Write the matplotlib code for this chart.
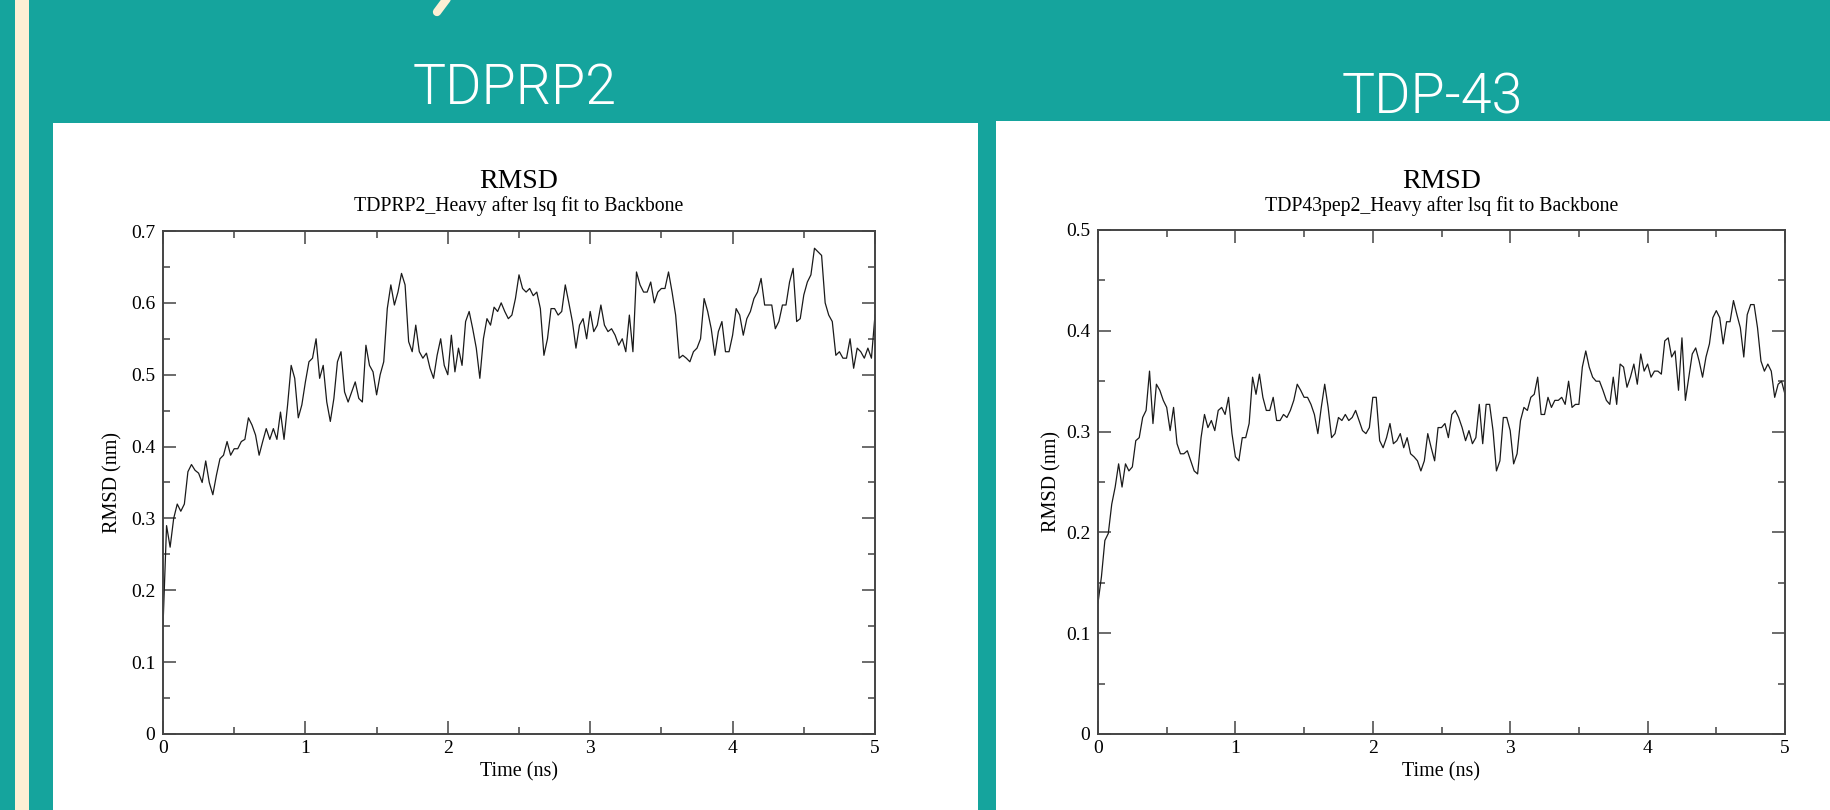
import numpy as np
import matplotlib
matplotlib.use("Agg")
import matplotlib.pyplot as plt
import matplotlib.patches as patches
from matplotlib.lines import Line2D

time_ns = np.linspace(0, 5, 201)

rmsd_tdprp2 = [
    0.150, 0.290, 0.260, 0.300, 0.320, 0.310, 0.320, 0.365, 0.375, 0.367,
    0.363, 0.350, 0.380, 0.350, 0.333, 0.360, 0.383, 0.388, 0.407, 0.388,
    0.397, 0.397, 0.407, 0.410, 0.440, 0.430, 0.416, 0.388, 0.407, 0.425,
    0.410, 0.425, 0.410, 0.448, 0.410, 0.458, 0.513, 0.495, 0.440, 0.458,
    0.490, 0.518, 0.523, 0.550, 0.495, 0.513, 0.462, 0.435, 0.467, 0.518,
    0.532, 0.476, 0.462, 0.476, 0.490, 0.467, 0.462, 0.541, 0.513, 0.504,
    0.472, 0.500, 0.518, 0.592, 0.625, 0.597, 0.615, 0.641, 0.625, 0.546,
    0.532, 0.569, 0.532, 0.523, 0.530, 0.509, 0.495, 0.527, 0.550, 0.513,
    0.500, 0.555, 0.504, 0.537, 0.513, 0.574, 0.588, 0.564, 0.537, 0.495,
    0.550, 0.578, 0.569, 0.594, 0.588, 0.600, 0.588, 0.578, 0.583, 0.606,
    0.639, 0.620, 0.615, 0.620, 0.610, 0.615, 0.592, 0.527, 0.550, 0.592,
    0.592, 0.583, 0.588, 0.625, 0.600, 0.574, 0.537, 0.569, 0.578, 0.550,
    0.588, 0.560, 0.569, 0.597, 0.569, 0.560, 0.564, 0.555, 0.541, 0.550,
    0.532, 0.583, 0.532, 0.643, 0.625, 0.615, 0.615, 0.629, 0.600, 0.615,
    0.620, 0.620, 0.643, 0.615, 0.583, 0.523, 0.527, 0.523, 0.518, 0.532,
    0.537, 0.550, 0.606, 0.588, 0.564, 0.527, 0.560, 0.574, 0.532, 0.532,
    0.555, 0.592, 0.583, 0.555, 0.578, 0.588, 0.606, 0.615, 0.634, 0.597,
    0.597, 0.597, 0.564, 0.574, 0.597, 0.597, 0.629, 0.648, 0.574, 0.578,
    0.611, 0.629, 0.639, 0.676, 0.671, 0.666, 0.600, 0.583, 0.574, 0.527,
    0.532, 0.523, 0.523, 0.550, 0.509, 0.537, 0.532, 0.523, 0.537, 0.523,
    0.583,
]

rmsd_tdp43 = [
    0.130, 0.156, 0.192, 0.199, 0.228, 0.245, 0.268, 0.245, 0.268, 0.261,
    0.265, 0.291, 0.294, 0.314, 0.321, 0.360, 0.308, 0.347, 0.341, 0.331,
    0.324, 0.301, 0.324, 0.288, 0.278, 0.278, 0.281, 0.271, 0.261, 0.258,
    0.294, 0.317, 0.304, 0.311, 0.301, 0.321, 0.324, 0.317, 0.334, 0.298,
    0.275, 0.271, 0.294, 0.294, 0.308, 0.354, 0.337, 0.357, 0.334, 0.321,
    0.321, 0.334, 0.311, 0.311, 0.317, 0.314, 0.321, 0.331, 0.347, 0.341,
    0.334, 0.334, 0.327, 0.317, 0.298, 0.324, 0.347, 0.324, 0.294, 0.298,
    0.314, 0.311, 0.317, 0.311, 0.314, 0.321, 0.311, 0.301, 0.298, 0.304,
    0.334, 0.334, 0.291, 0.284, 0.294, 0.308, 0.288, 0.291, 0.298, 0.284,
    0.294, 0.278, 0.275, 0.271, 0.261, 0.271, 0.298, 0.284, 0.271, 0.304,
    0.304, 0.308, 0.294, 0.317, 0.321, 0.314, 0.304, 0.291, 0.301, 0.288,
    0.294, 0.327, 0.288, 0.327, 0.327, 0.301, 0.261, 0.271, 0.314, 0.314,
    0.301, 0.268, 0.278, 0.311, 0.324, 0.321, 0.334, 0.337, 0.354, 0.317,
    0.317, 0.334, 0.324, 0.331, 0.331, 0.334, 0.327, 0.350, 0.324, 0.327,
    0.327, 0.364, 0.380, 0.364, 0.354, 0.350, 0.350, 0.341, 0.331, 0.327,
    0.354, 0.327, 0.367, 0.364, 0.344, 0.354, 0.367, 0.347, 0.377, 0.360,
    0.367, 0.354, 0.360, 0.360, 0.357, 0.390, 0.393, 0.374, 0.380, 0.341,
    0.393, 0.331, 0.354, 0.377, 0.383, 0.370, 0.354, 0.374, 0.387, 0.413,
    0.420, 0.413, 0.387, 0.409, 0.409, 0.430, 0.416, 0.403, 0.374, 0.416,
    0.426, 0.426, 0.403, 0.370, 0.360, 0.367, 0.360, 0.334, 0.347, 0.350,
    0.337,
]

panel_titles = ["TDPRP2", "TDP-43"]
plot_subtitles = ["TDPRP2_Heavy after lsq fit to Backbone",
                  "TDP43pep2_Heavy after lsq fit to Backbone"]
x_ticks = [0, 1, 2, 3, 4, 5]
x_labels = ["0", "1", "2", "3", "4", "5"]
y_ticks_left = [0, 0.1, 0.2, 0.3, 0.4, 0.5, 0.6, 0.7]
y_labels_left = ["0", "0.1", "0.2", "0.3", "0.4", "0.5", "0.6", "0.7"]
y_ticks_right = [0, 0.1, 0.2, 0.3, 0.4, 0.5]
y_labels_right = ["0", "0.1", "0.2", "0.3", "0.4", "0.5"]

TEAL = "#15a49d"
CREAM = "#fdefd4"
W, H = 1830, 810

fig = plt.figure(figsize=(W / 100, H / 100), dpi=100)
fig.patch.set_facecolor(TEAL)


def px(x, y):
    # pixel position (from top-left) -> figure fraction
    return x / W, 1 - y / H


# slide decorations, kept underneath the axes
fig.patches.append(patches.Rectangle(px(15, 810), 14 / W, 1, transform=fig.transFigure,
                                     facecolor=CREAM, edgecolor="none", zorder=-5))
fig.patches.append(patches.Rectangle(px(53, 810), (978 - 53) / W, (810 - 123) / H,
                                     transform=fig.transFigure, facecolor="white",
                                     edgecolor="none", zorder=-5))
fig.patches.append(patches.Rectangle(px(996, 810), (W - 996) / W, (810 - 121) / H,
                                     transform=fig.transFigure, facecolor="white",
                                     edgecolor="none", zorder=-5))
fig.lines.append(Line2D([452 / W, 437 / W], [1.01, 1 - 12 / H], transform=fig.transFigure,
                        color=CREAM, lw=6, solid_capstyle="round", zorder=-4))

fig.text(*px(515, 104), panel_titles[0], ha="center", va="baseline", color="white",
         fontsize=40, family="Roboto", weight=300)
fig.text(*px(1432, 113), panel_titles[1], ha="center", va="baseline", color="white",
         fontsize=40, family="Roboto", weight=300)

serif = "Liberation Serif"
axes_px = [(163, 875, 231, 734), (1098, 1785, 230, 734)]
series = [rmsd_tdprp2, rmsd_tdp43]
yticks = [(y_ticks_left, y_labels_left, 0.7), (y_ticks_right, y_labels_right, 0.5)]
ylab_x = [113, 1052]

for k in range(2):
    x0, x1, y0, y1 = axes_px[k]
    ax = fig.add_axes([x0 / W, 1 - y1 / H, (x1 - x0) / W, (y1 - y0) / H])
    ax.plot(time_ns, series[k], color="#1a1a1a", lw=0.9)
    ax.set_xlim(0, 5)
    ax.set_ylim(0, yticks[k][2])
    ax.set_xticks(x_ticks, x_labels)
    ax.set_xticks(np.arange(0.5, 5, 1), minor=True)
    ax.set_yticks(yticks[k][0], yticks[k][1])
    ax.set_yticks(np.arange(0.05, yticks[k][2], 0.1), minor=True)
    ax.tick_params(which="both", direction="in", top=True, right=True,
                   color="#444444", width=1.1, labelsize=14)
    ax.tick_params(which="major", length=9.5)
    ax.tick_params(which="minor", length=5)
    ax.tick_params(axis="x", pad=4)
    ax.tick_params(axis="y", pad=5.5)
    for lab in ax.get_xticklabels() + ax.get_yticklabels():
        lab.set_family(serif)
    for sp in ax.spines.values():
        sp.set_color("#444444")
        sp.set_linewidth(1.4)

    cx = (x0 + x1) / 2
    fig.text(*px(cx, 188), "RMSD", ha="center", va="baseline", fontsize=20, family=serif)
    fig.text(*px(cx, 211), plot_subtitles[k], ha="center", va="baseline",
             fontsize=14.2, family=serif)
    fig.text(*px(cx, 776), "Time (ns)", ha="center", va="baseline", fontsize=14.5,
             family=serif)
    fig.text(*px(ylab_x[k], (y0 + y1) / 2), "RMSD (nm)", ha="center", va="center",
             rotation=90, fontsize=14.5, family=serif)

fig.savefig("out.png", dpi=100, facecolor=fig.get_facecolor())
